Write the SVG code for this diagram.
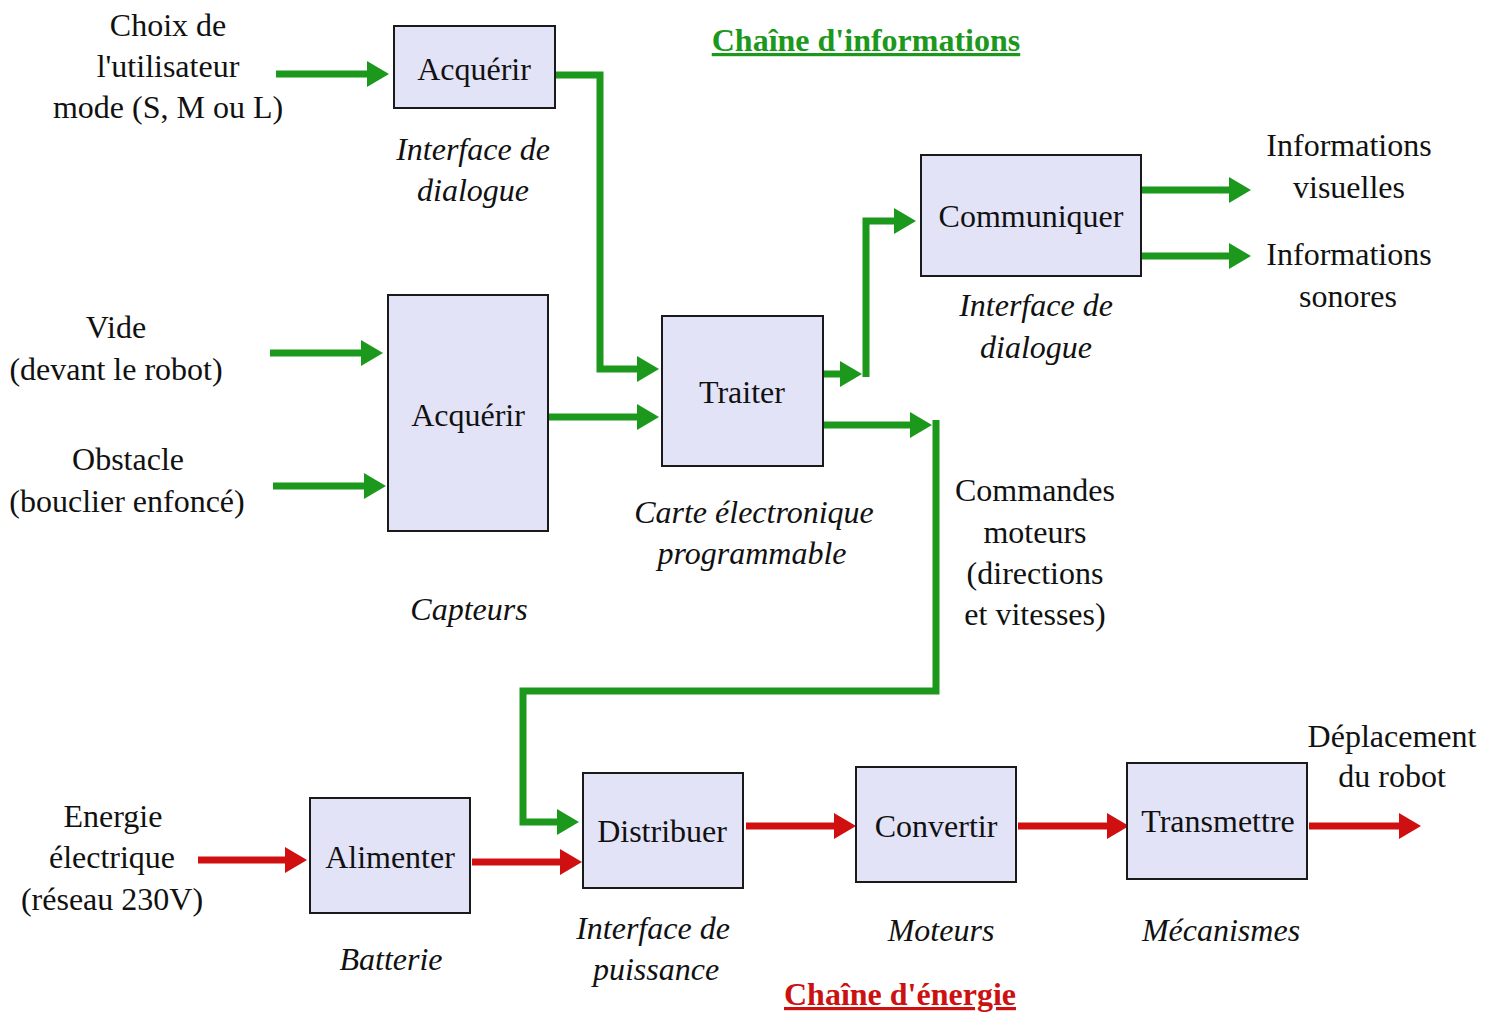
<svg xmlns="http://www.w3.org/2000/svg" width="1491" height="1013" viewBox="0 0 1491 1013">
<style>
.box{fill:#e3e3f8;stroke:#1a1a1a;stroke-width:2}
text{font-family:"Liberation Serif","Times New Roman",serif;font-size:32px;fill:#111;text-anchor:middle}
.it{font-style:italic}
.g{fill:none;stroke:#1c981c;stroke-width:7;stroke-linejoin:miter}
.r{fill:none;stroke:#d01010;stroke-width:7}
.tg{font-weight:bold;fill:#1c981c;text-decoration:underline}
.tr{font-weight:bold;fill:#cc1111;text-decoration:underline}
</style>
<defs>
<marker id="ag" markerUnits="userSpaceOnUse" markerWidth="24" markerHeight="28" refX="1" refY="13" orient="auto"><path d="M0,0 L22,13 L0,26 z" fill="#1c981c"/></marker>
<marker id="ar" markerUnits="userSpaceOnUse" markerWidth="24" markerHeight="28" refX="1" refY="13" orient="auto"><path d="M0,0 L22,13 L0,26 z" fill="#d01010"/></marker>
</defs>
<rect width="1491" height="1013" fill="#ffffff"/>
<g id="connectors">
<path class="g" d="M276,74 H368" marker-end="url(#ag)"/>
<path class="g" d="M553,75 H600 V369 H638" marker-end="url(#ag)"/>
<path class="g" d="M270,353 H362" marker-end="url(#ag)"/>
<path class="g" d="M273,486 H365" marker-end="url(#ag)"/>
<path class="g" d="M548,417 H638" marker-end="url(#ag)"/>
<path class="g" d="M821,374 H841" marker-end="url(#ag)"/>
<path class="g" d="M866,377 V221 H895" marker-end="url(#ag)"/>
<path class="g" d="M821,425 H911" marker-end="url(#ag)"/>
<path class="g" d="M936,420 V691 H523 V822 H558" marker-end="url(#ag)"/>
<path class="g" d="M1139,190 H1230" marker-end="url(#ag)"/>
<path class="g" d="M1139,256 H1230" marker-end="url(#ag)"/>
<path class="r" d="M198,860 H286" marker-end="url(#ar)"/>
<path class="r" d="M472,862 H561" marker-end="url(#ar)"/>
<path class="r" d="M746,826 H835" marker-end="url(#ar)"/>
<path class="r" d="M1018,826 H1108" marker-end="url(#ar)"/>
<path class="r" d="M1309,826 H1400" marker-end="url(#ar)"/>
</g>
<g id="acquerir1"><rect class="box" x="394" y="26" width="161" height="82"/><text x="474" y="80">Acquérir</text></g>
<g id="acquerir2"><rect class="box" x="388" y="295" width="160" height="236"/><text x="468" y="426">Acquérir</text></g>
<g id="traiter"><rect class="box" x="662" y="316" width="161" height="150"/><text x="742" y="403">Traiter</text></g>
<g id="communiquer"><rect class="box" x="921" y="155" width="220" height="121"/><text x="1031" y="227">Communiquer</text></g>
<g id="alimenter"><rect class="box" x="310" y="798" width="160" height="115"/><text x="390" y="868">Alimenter</text></g>
<g id="distribuer"><rect class="box" x="583" y="773" width="160" height="115"/><text x="662" y="842">Distribuer</text></g>
<g id="convertir"><rect class="box" x="856" y="767" width="160" height="115"/><text x="936" y="837">Convertir</text></g>
<g id="transmettre"><rect class="box" x="1127" y="763" width="180" height="116"/><text x="1218" y="832">Transmettre</text></g>
<g id="labels">
<text x="168" y="36">Choix de</text>
<text x="168" y="77">l'utilisateur</text>
<text x="168" y="118">mode (S, M ou L)</text>
<text class="it" x="473" y="160">Interface de</text>
<text class="it" x="473" y="201">dialogue</text>
<text x="116" y="338">Vide</text>
<text x="116" y="380">(devant le robot)</text>
<text x="128" y="470">Obstacle</text>
<text x="127" y="512">(bouclier enfoncé)</text>
<text class="it" x="469" y="620">Capteurs</text>
<text class="it" x="754" y="523">Carte électronique</text>
<text class="it" x="752" y="564">programmable</text>
<text class="it" x="1036" y="316">Interface de</text>
<text class="it" x="1036" y="358">dialogue</text>
<text x="1349" y="156">Informations</text>
<text x="1349" y="198">visuelles</text>
<text x="1349" y="265">Informations</text>
<text x="1348" y="307">sonores</text>
<text x="1035" y="501">Commandes</text>
<text x="1035" y="543">moteurs</text>
<text x="1035" y="584">(directions</text>
<text x="1035" y="625">et vitesses)</text>
<text x="113" y="827">Energie</text>
<text x="112" y="868">électrique</text>
<text x="112" y="910">(réseau 230V)</text>
<text class="it" x="391" y="970">Batterie</text>
<text class="it" x="653" y="939">Interface de</text>
<text class="it" x="656" y="980">puissance</text>
<text class="it" x="941" y="941">Moteurs</text>
<text class="it" x="1221" y="941">Mécanismes</text>
<text x="1392" y="747">Déplacement</text>
<text x="1392" y="787">du robot</text>
<text class="tg" x="866" y="51">Chaîne d'informations</text>
<text class="tr" x="900" y="1005">Chaîne d'énergie</text>
</g>
</svg>
